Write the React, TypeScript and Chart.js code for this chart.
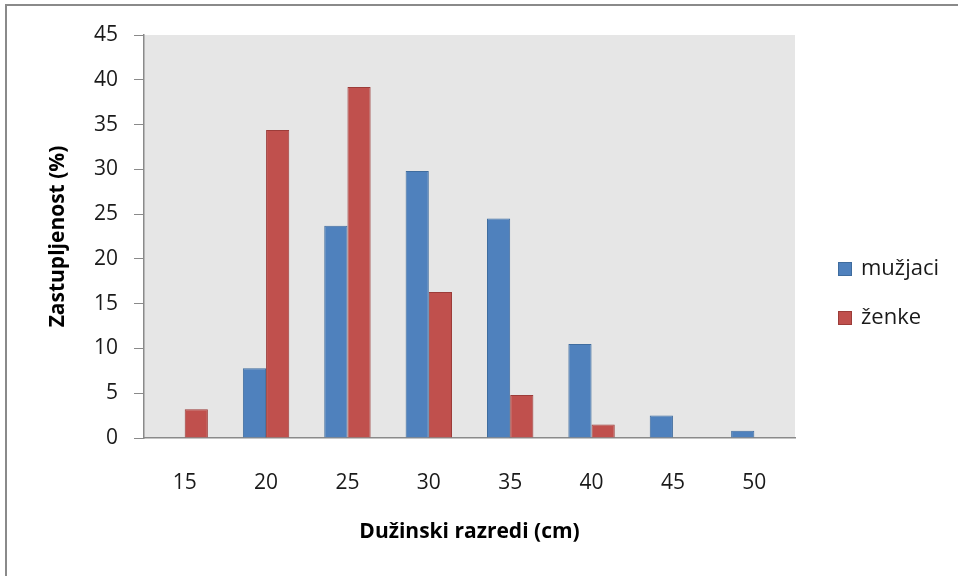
import React, { useEffect, useRef } from "react";
import { Chart, registerables } from "chart.js";

Chart.register(...registerables);

const categories = ["15", "20", "25", "30", "35", "40", "45", "50"];
const muzjaci = [0, 7.8, 23.7, 29.8, 24.5, 10.5, 2.5, 0.8];
const zenke = [3.2, 34.4, 39.2, 16.3, 4.8, 1.5, 0, 0];
const seriesNames = ["mužjaci", "ženke"];
const yTitle = "Zastupljenost (%)";
const xTitle = "Dužinski razredi (cm)";

const FONT = "'Open Sans', sans-serif";

const framePlugin = {
  id: "frameBg",
  beforeDraw(chart: any) {
    const { ctx, chartArea } = chart;
    ctx.save();
    ctx.fillStyle = "#ffffff";
    ctx.fillRect(0, 0, chart.width, chart.height);
    ctx.strokeStyle = "#8a8a8a";
    ctx.lineWidth = 2;
    ctx.strokeRect(6, 5, chart.width + 20, chart.height + 20);
    ctx.fillStyle = "#e6e6e6";
    ctx.fillRect(chartArea.left, chartArea.top, chartArea.right - chartArea.left, chartArea.bottom - chartArea.top);
    ctx.restore();
  },
};

const legendPlugin = {
  id: "customLegend",
  afterDraw(chart: any) {
    const { ctx } = chart;
    ctx.save();
    const x = 838;
    const y0 = 269;
    const gap = 49;
    chart.data.datasets.forEach((ds: any, i: number) => {
      const cy = y0 + i * gap;
      ctx.fillStyle = ds.backgroundColor;
      ctx.fillRect(x, cy - 7, 14, 14);
      ctx.strokeStyle = ds.borderColor;
      ctx.lineWidth = 1;
      ctx.strokeRect(x + 0.5, cy - 6.5, 13, 13);
      ctx.fillStyle = "#1a1a1a";
      ctx.font = `22px ${FONT}`;
      ctx.textBaseline = "middle";
      ctx.textAlign = "left";
      ctx.fillText(ds.label, x + 23, cy);
    });
    ctx.restore();
  },
};

export default function App() {
  const ref = useRef<HTMLCanvasElement | null>(null);
  useEffect(() => {
    if (!ref.current) return;
    const chart = new Chart(ref.current, {
      type: "bar",
      data: {
        labels: categories,
        datasets: [
          {
            label: seriesNames[0],
            data: muzjaci,
            backgroundColor: "#4f81bd",
            borderColor: "#3f6c9e",
            borderWidth: 1,
            barPercentage: 1,
            categoryPercentage: 0.57,
          },
          {
            label: seriesNames[1],
            data: zenke,
            backgroundColor: "#c0504d",
            borderColor: "#9c3c39",
            borderWidth: 1,
            barPercentage: 1,
            categoryPercentage: 0.57,
          },
        ],
      },
      options: {
        animation: false,
        responsive: true,
        maintainAspectRatio: false,
        layout: { padding: { top: 35, right: 163, left: 0, bottom: 0 } },
        plugins: { legend: { display: false }, tooltip: { enabled: false } },
        scales: {
          x: {
            offset: true,
            afterFit(scale: any) {
              scale.height = 138;
            },
            grid: { display: true, drawOnChartArea: false, drawTicks: false, color: "#8a8a8a" },
            border: { display: true, color: "#8a8a8a", width: 1.5 },
            ticks: { color: "#1a1a1a", font: { family: FONT, size: 21 }, padding: 32 },
            title: {
              display: true,
              text: xTitle,
              color: "#000",
              font: { family: FONT, size: 21, weight: "bold" },
              padding: { top: 0, bottom: 31 },
            },
          },
          y: {
            min: 0,
            max: 45,
            afterFit(scale: any) {
              scale.width = 144;
            },
            grid: { display: true, drawOnChartArea: false, drawTicks: true, tickLength: 10, color: "#8a8a8a" },
            border: { display: true, color: "#8a8a8a", width: 1.5 },
            ticks: { stepSize: 5, color: "#1a1a1a", font: { family: FONT, size: 21 }, padding: 16 },
            title: {
              display: true,
              text: yTitle,
              color: "#000",
              font: { family: FONT, size: 21, weight: "bold" },
              padding: { top: 45, bottom: 0 },
            },
          },
        },
      },
      plugins: [framePlugin, legendPlugin],
    });
    return () => chart.destroy();
  }, []);
  return (
    <div style={{ position: "absolute", left: 0, top: 0, width: 958, height: 576 }}>
      <canvas ref={ref} />
    </div>
  );
}
